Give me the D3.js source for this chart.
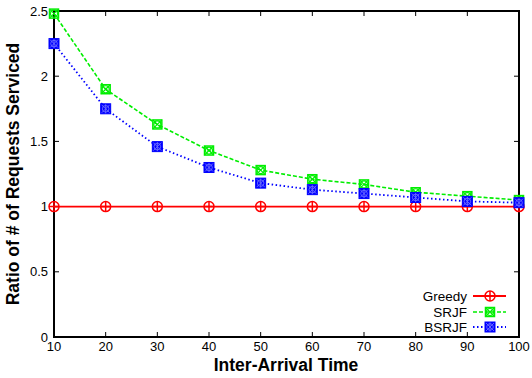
<!DOCTYPE html>
<html><head><meta charset="utf-8">
<script src="https://cdn.jsdelivr.net/npm/d3@7"></script>
<style>body{margin:0;background:#fff}svg{display:block}text{font-family:"Liberation Sans",Arial,sans-serif}</style>
</head><body><svg id="c" width="532" height="378"></svg>
<script>
const xValues = [10,20,30,40,50,60,70,80,90,100];
const greedy = [1,1,1,1,1,1,1,1,1,1];
const srjf = [2.48,1.90,1.63,1.43,1.28,1.21,1.17,1.11,1.08,1.05];
const bsrjf = [2.25,1.75,1.46,1.30,1.18,1.13,1.10,1.07,1.04,1.03];
const yTicks = [0,0.5,1,1.5,2,2.5];
const yTickLabels = ["0","0.5","1","1.5","2","2.5"];
const seriesNames = ["Greedy","SRJF","BSRJF"];

const svg = d3.select("#c");
const L=54,R=519,T=11,B=337;
const x = d3.scaleLinear().domain([10,100]).range([L,R]);
const y = d3.scaleLinear().domain([0,2.5]).range([B,T]);

const g = svg.append("g");
xValues.forEach(v=>{
  g.append("line").attr("x1",x(v)).attr("x2",x(v)).attr("y1",B).attr("y2",B-5).attr("stroke","#000").attr("stroke-width",1);
  g.append("line").attr("x1",x(v)).attr("x2",x(v)).attr("y1",T).attr("y2",T+5).attr("stroke","#000").attr("stroke-width",1);
  g.append("text").attr("x",x(v)).attr("y",B+14).attr("text-anchor","middle").attr("font-size",13).text(v);
});
yTicks.forEach((v,i)=>{
  g.append("line").attr("x1",L).attr("x2",L+5).attr("y1",y(v)).attr("y2",y(v)).attr("stroke","#000").attr("stroke-width",1);
  g.append("line").attr("x1",R).attr("x2",R-5).attr("y1",y(v)).attr("y2",y(v)).attr("stroke","#000").attr("stroke-width",1);
  g.append("text").attr("x",L-6).attr("y",y(v)).attr("dy","0.35em").attr("text-anchor","end").attr("font-size",13).text(yTickLabels[i]);
});
svg.append("rect").attr("x",L).attr("y",T).attr("width",R-L).attr("height",B-T).attr("fill","none").attr("stroke","#000").attr("stroke-width",2);

svg.append("text").attr("x",286).attr("y",371).attr("text-anchor","middle").attr("font-size",17.5).attr("font-weight","bold").text("Inter-Arrival Time");
svg.append("text").attr("transform","translate(19,174) rotate(-90)").attr("text-anchor","middle").attr("font-size",17.5).attr("font-weight","bold").text("Ratio of # of Requests Serviced");

const styles = [
  {color:"#ff0000", dash:null, w:1.8, marker:"circplus"},
  {color:"#00ee00", dash:"4,2", w:1.6, marker:"boxxcirc"},
  {color:"#0000ff", dash:"1.5,2.5", w:1.8, marker:"fboxx"}
];
function drawMarker(sel,cx,cy,st){
  const m = sel.append("g").attr("transform",`translate(${cx},${cy})`);
  if(st.marker==="circplus"){
    m.append("circle").attr("r",5).attr("fill","none").attr("stroke",st.color).attr("stroke-width",1.5);
    m.append("path").attr("d","M-5,0H5M0,-5V5").attr("stroke",st.color).attr("stroke-width",1.5);
  } else if(st.marker==="boxxcirc"){
    m.append("rect").attr("x",-4.5).attr("y",-4.5).attr("width",9).attr("height",9).attr("fill","none").attr("stroke",st.color).attr("stroke-width",1.5);
    m.append("circle").attr("r",3.5).attr("fill","none").attr("stroke",st.color).attr("stroke-width",1.2);
    m.append("path").attr("d","M-4.5,-4.5L4.5,4.5M-4.5,4.5L4.5,-4.5").attr("stroke",st.color).attr("stroke-width",1.2);
  } else {
    m.append("rect").attr("x",-5).attr("y",-5).attr("width",10).attr("height",10).attr("fill",st.color).attr("stroke",st.color).attr("stroke-width",1);
    m.append("circle").attr("r",3.3).attr("fill","none").attr("stroke","#6f6fff").attr("stroke-width",0.9);
    m.append("path").attr("d","M-4,-4L4,4M-4,4L4,-4M0,-4.5V4.5").attr("stroke","#6f6fff").attr("stroke-width",0.9);
  }
}
const data = [greedy,srjf,bsrjf];
const line = d3.line().x((d,i)=>x(xValues[i])).y(d=>y(d));
data.forEach((arr,k)=>{
  const st=styles[k];
  const p = svg.append("path").datum(arr).attr("d",line).attr("fill","none").attr("stroke",st.color).attr("stroke-width",st.w);
  if(st.dash) p.attr("stroke-dasharray",st.dash);
  arr.forEach((v,i)=>drawMarker(svg,x(xValues[i]),y(v),st));
});

const ly=[296,312,327];
seriesNames.forEach((n,k)=>{
  const st=styles[k];
  svg.append("text").attr("x",467).attr("y",ly[k]).attr("dy","0.35em").attr("text-anchor","end").attr("font-size",13.5).text(n);
  const p=svg.append("line").attr("x1",473).attr("x2",506).attr("y1",ly[k]).attr("y2",ly[k]).attr("stroke",st.color).attr("stroke-width",st.w);
  if(st.dash) p.attr("stroke-dasharray",st.dash);
  drawMarker(svg,490,ly[k],st);
});
</script></body></html>
